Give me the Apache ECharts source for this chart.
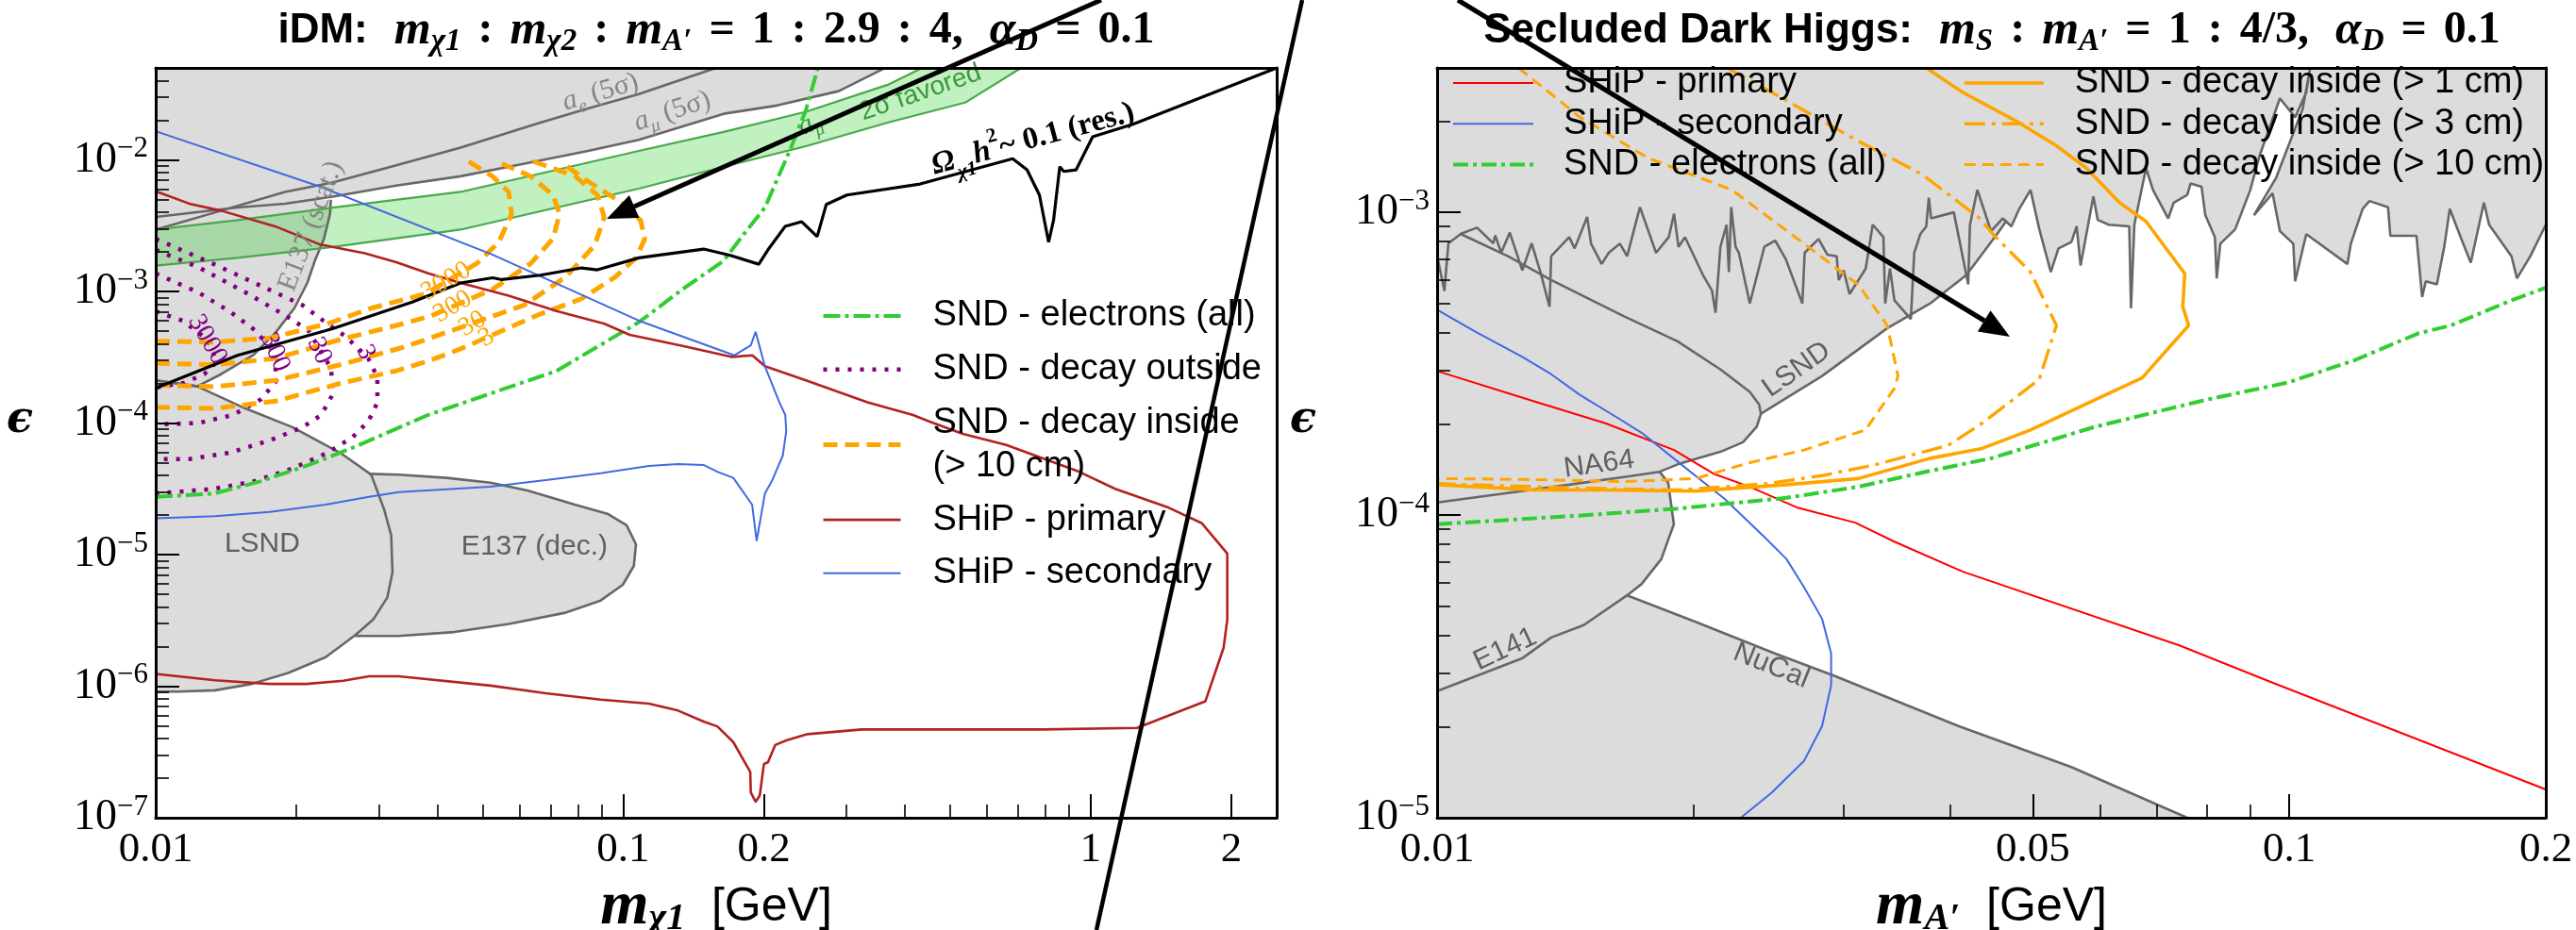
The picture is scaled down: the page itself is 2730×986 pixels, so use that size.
<!DOCTYPE html>
<html>
<head>
<meta charset="utf-8">
<title>SND@LHC sensitivity: inelastic dark matter and secluded dark Higgs</title>
<script src="https://cdn.jsdelivr.net/npm/echarts@6.0.0/dist/echarts.min.js"></script>
<style>
html, body { margin: 0; padding: 0; background: #ffffff; }
#chart { width: 2730px; height: 986px; }
</style>
</head>
<body>
<div id="chart"></div>
<script>
const SERIF = "'Liberation Serif', 'DejaVu Serif', serif";
const SANS = "'Liberation Sans', 'DejaVu Sans', sans-serif";

// ---------------- ticks ----------------
const idmXTickLabels = [0.01, 0.1, 0.2, 1, 2];
const idmXMinorTicks = [0.02, 0.03, 0.04, 0.05, 0.06, 0.07, 0.08, 0.09, 0.3, 0.4, 0.5, 0.6, 0.7, 0.8, 0.9];
const idmYTickLabels = [1e-7, 1e-6, 1e-5, 1e-4, 1e-3, 1e-2];
const higgsXTickLabels = [0.01, 0.05, 0.1, 0.2];
const higgsXMinorTicks = [0.02, 0.03, 0.04, 0.06, 0.07, 0.08, 0.09];
const higgsYTickLabels = [1e-5, 1e-4, 1e-3];

function decadeMinors(fromExp, toExp, top) {
  const out = [];
  for (let e = fromExp; e <= toExp; e++) {
    for (let k = 2; k <= 9; k++) {
      const v = +(k * Math.pow(10, e)).toPrecision(3);
      if (v < top) out.push(v);
    }
  }
  return out;
}
const idmYMinorTicks = decadeMinors(-7, -2, 0.05);
const higgsYMinorTicks = decadeMinors(-5, -3, 0.003);

// ---------------- iDM panel: [m_chi1 (GeV), epsilon] ----------------
const idmShipPrimary = [[0.01,5.78e-3],[0.0118,4.65e-3],[0.0138,4.11e-3],[0.018,3.13e-3],[0.0225,2.27e-3],[0.028,1.95e-3],[0.0327,1.67e-3],[0.0384,1.37e-3],[0.0449,1.16e-3],[0.0569,9.3e-4],[0.072,7.1e-4],[0.0912,5.68e-4],[0.1033,4.68e-4],[0.134,3.85e-4],[0.171,3.18e-4],[0.189,3.27e-4],[0.201,2.70e-4],[0.246,2.11e-4],[0.333,1.44e-4],[0.417,1.15e-4],[0.451,1.03e-4],[0.533,8.28e-5],[0.66,6.82e-5],[0.944,4.27e-5],[1.128,3.16e-5],[1.47,2.27e-5],[1.73,1.73e-5],[1.96,1.02e-5],[1.96,3.21e-6],[1.925,1.96e-6],[1.76,7.69e-7],[1.256,4.82e-7],[0.789,4.69e-7],[0.324,4.69e-7],[0.248,4.32e-7],[0.2233,3.87e-7],[0.2114,3.57e-7],[0.204,2.64e-7],[0.200,2.56e-7],[0.196,1.48e-7],[0.192,1.32e-7],[0.1875,1.56e-7],[0.187,2.23e-7],[0.172,3.76e-7],[0.159,4.95e-7],[0.1486,5.38e-7],[0.131,6.53e-7],[0.1135,7.36e-7],[0.0895,7.91e-7],[0.0683,8.83e-7],[0.052,1.01e-6],[0.0331,1.19e-6],[0.0286,1.19e-6],[0.0252,1.10e-6],[0.021,1.04e-6],[0.0175,1.04e-6],[0.0134,1.11e-6],[0.01,1.24e-6]];
const idmShipSecondary = [[0.01,1.65e-2],[0.0225,6.25e-3],[0.0526,1.9e-3],[0.108,6.0e-4],[0.173,3.27e-4],[0.1875,3.9e-4],[0.192,4.94e-4],[0.201,2.70e-4],[0.2155,1.46e-4],[0.2222,1.15e-4],[0.2233,8.7e-5],[0.2195,5.66e-5],[0.208,3.62e-5],[0.201,2.91e-5],[0.193,1.27e-5],[0.1887,2.40e-5],[0.172,3.83e-5],[0.159,4.27e-5],[0.1485,4.8e-5],[0.131,4.88e-5],[0.1135,4.72e-5],[0.0895,4.16e-5],[0.0683,3.68e-5],[0.052,3.28e-5],[0.0331,2.99e-5],[0.0286,2.75e-5],[0.0231,2.40e-5],[0.01754,2.11e-5],[0.0134,1.96e-5],[0.01,1.89e-5]];
const idmElectrons = [[0.01,2.75e-5],[0.01333,2.91e-5],[0.01682,3.62e-5],[0.0212,4.78e-5],[0.0268,6.64e-5],[0.0382,1.15e-4],[0.072,2.49e-4],[0.108,5.83e-4],[0.134,1.04e-3],[0.164,1.71e-3],[0.1815,2.75e-3],[0.201,4.34e-3],[0.227,1.17e-2],[0.246,2.39e-2],[0.261,0.05]];
const idmRelic = [[0.01,1.84e-4],[0.01496,3.27e-4],[0.0239,5.21e-4],[0.0355,8.33e-4],[0.0449,1.16e-3],[0.0526,1.27e-3],[0.055,1.23e-3],[0.0665,1.33e-3],[0.0815,1.51e-3],[0.0881,1.46e-3],[0.108,1.80e-3],[0.1486,2.10e-3],[0.1695,1.88e-3],[0.195,1.61e-3],[0.205,2.12e-3],[0.222,3.12e-3],[0.241,3.39e-3],[0.26,2.61e-3],[0.272,4.59e-3],[0.301,5.41e-3],[0.432,6.56e-3],[0.681,1.02e-2],[0.731,8.4e-3],[0.777,5.41e-3],[0.813,2.37e-3],[0.833,3.48e-3],[0.859,8.87e-3],[0.876,8.17e-3],[0.931,8.4e-3],[1.01,1.50e-2],[1.235,1.87e-2],[2.5,0.05]];
const idmBandUpper = [[0.01,2.95e-3],[0.01496,3.48e-3],[0.0239,4.34e-3],[0.0449,5.71e-3],[0.108,1.17e-2],[0.164,1.63e-2],[0.246,2.32e-2],[0.368,3.72e-2],[0.436,0.05]];
const idmBandLower = [[0.01,1.57e-3],[0.01496,1.80e-3],[0.0239,2.18e-3],[0.0449,2.95e-3],[0.108,6.04e-3],[0.164,8.87e-3],[0.246,1.27e-2],[0.368,1.92e-2],[0.541,2.74e-2],[0.71,0.05]];
const idmAeBound = [[0.01,2.95e-3],[0.0138,4.11e-3],[0.0189,5.71e-3],[0.0239,6.74e-3],[0.0327,9.1e-3],[0.0449,1.24e-2],[0.0665,1.92e-2],[0.0841,2.46e-2],[0.108,3.16e-2],[0.158,0.05]];
const idmAmuBound = [[0.01,3.68e-3],[0.01496,4.34e-3],[0.0189,4.64e-3],[0.0239,5.26e-3],[0.0327,6.37e-3],[0.0449,7.51e-3],[0.0615,9.37e-3],[0.0841,1.17e-2],[0.108,1.42e-2],[0.164,2.24e-2],[0.2133,2.59e-2],[0.289,3.33e-2],[0.353,4.75e-2],[0.363,0.05]];
const idmE137Scat = [[0.01,2.11e-4],[0.01227,1.90e-4],[0.0138,2.35e-4],[0.01615,3.27e-4],[0.018,4.81e-4],[0.0198,7.46e-4],[0.0211,1.16e-3],[0.0219,1.71e-3],[0.0229,2.51e-3],[0.0236,3.89e-3],[0.0237,4.98e-3]];
const idmLsnd = [[0.01,2.11e-4],[0.01227,1.90e-4],[0.01556,1.29e-4],[0.0196,9.3e-5],[0.0248,5.94e-5],[0.0289,4.06e-5],[0.0308,2.21e-5],[0.0319,1.4e-5],[0.0321,7.35e-6],[0.0313,4.73e-6],[0.0292,3.21e-6],[0.0267,2.44e-6],[0.0231,1.66e-6],[0.0192,1.26e-6],[0.01604,1.04e-6],[0.0134,9.3e-7],[0.01117,9.1e-7],[0.01,9.1e-7]];
const idmE137Dec = [[0.0286,4.11e-5],[0.0331,4.05e-5],[0.0419,3.83e-5],[0.052,3.52e-5],[0.0624,3.07e-5],[0.0788,2.40e-5],[0.0929,2.03e-5],[0.1017,1.67e-5],[0.1065,1.20e-5],[0.1054,8.2e-6],[0.0998,5.9e-6],[0.0895,4.48e-6],[0.0748,3.6e-6],[0.057,2.97e-6],[0.0435,2.58e-6],[0.0331,2.41e-6],[0.0267,2.41e-6]];
// SND decay inside (> 10 cm), event-count contours 3000 / 300 / 30 / 3
const idmInside3000 = [[0.01,4.19e-4],[0.01333,4.12e-4],[0.0176,4.44e-4],[0.0233,5.68e-4],[0.0289,7.46e-4],[0.0377,9.57e-4],[0.0486,1.63e-3],[0.0542,2.37e-3],[0.0577,3.88e-3],[0.0569,5.71e-3],[0.0525,7.51e-3],[0.0463,9.9e-3]];
const idmInside300 = [[0.01,2.85e-4],[0.01333,2.77e-4],[0.0181,3.10e-4],[0.0248,4.31e-4],[0.0338,5.68e-4],[0.0388,6.52e-4],[0.0526,1.04e-3],[0.0634,1.63e-3],[0.0708,2.52e-3],[0.0731,3.89e-3],[0.0708,5.41e-3],[0.0634,7.51e-3],[0.055,9.37e-3]];
const idmInside30 = [[0.01,1.94e-4],[0.01333,1.89e-4],[0.0181,2.11e-4],[0.0248,2.77e-4],[0.0338,3.76e-4],[0.0388,4.44e-4],[0.0615,7.89e-4],[0.0753,1.29e-3],[0.0869,2.24e-3],[0.0911,3.68e-3],[0.0881,5.41e-3],[0.079,7.51e-3],[0.0634,9.9e-3]];
const idmInside3 = [[0.01,1.32e-4],[0.01333,1.29e-4],[0.0181,1.47e-4],[0.0248,2.0e-4],[0.0327,2.49e-4],[0.0388,3.01e-4],[0.0449,3.66e-4],[0.0662,6.7e-4],[0.0815,8.8e-4],[0.0962,1.29e-3],[0.1066,1.8e-3],[0.1112,2.5e-3],[0.109,3.47e-3],[0.0982,4.84e-3],[0.0849,6.73e-3],[0.0735,9.6e-3]];
// SND decay outside, event-count contours 3000 / 300 / 30 / 3
const idmOutside3000 = [[0.01,7.06e-4],[0.01141,6.0e-4],[0.01291,4.31e-4],[0.01352,2.93e-4],[0.0127,2.35e-4],[0.0115,2.02e-4],[0.01,1.86e-4]];
const idmOutside300 = [[0.01,1.37e-3],[0.01233,9.84e-4],[0.01439,7.06e-4],[0.0163,5.08e-4],[0.0179,3.46e-4],[0.01815,2.11e-4],[0.01682,1.52e-4],[0.01463,1.15e-4],[0.01233,1.0e-4],[0.01,9.75e-5]];
const idmOutside30 = [[0.01,2.07e-3],[0.01233,1.53e-3],[0.01556,9.84e-4],[0.01875,6.70e-4],[0.0212,5.08e-4],[0.0237,2.62e-4],[0.024,1.69e-4],[0.0226,1.15e-4],[0.02057,9.25e-5],[0.0176,7.42e-5],[0.01439,5.94e-5],[0.01177,5.32e-5],[0.01,5.32e-5]];
const idmOutside3 = [[0.01,2.51e-3],[0.01333,1.61e-3],[0.01682,1.10e-3],[0.02057,7.91e-4],[0.0233,5.68e-4],[0.0255,4.55e-4],[0.0285,3.10e-4],[0.0298,2.23e-4],[0.0298,1.43e-4],[0.0285,1.03e-4],[0.0264,7.83e-5],[0.0233,5.94e-5],[0.0196,4.51e-5],[0.0163,3.62e-5],[0.01333,3.16e-5],[0.01,2.91e-5]];

// ---------------- secluded dark Higgs panel: [m_A' (GeV), epsilon] ----------------
const higgsShipPrimary = [[0.01,2.99e-4],[0.01297,2.38e-4],[0.01576,2.01e-4],[0.01897,1.64e-4],[0.0211,1.37e-4],[0.02328,1.24e-4],[0.02642,1.06e-4],[0.03095,9.44e-5],[0.0344,8.17e-5],[0.0414,6.5e-5],[0.0743,3.71e-5],[0.0951,2.81e-5],[0.2,1.24e-5]];
const higgsShipSecondary = [[0.01,4.77e-4],[0.0111,4.03e-4],[0.01259,3.33e-4],[0.01361,2.92e-4],[0.01472,2.49e-4],[0.01622,2.11e-4],[0.01738,1.87e-4],[0.01934,1.47e-4],[0.02175,1.13e-4],[0.02421,8.47e-5],[0.0257,7.16e-5],[0.02695,5.78e-5],[0.0283,4.54e-5],[0.029,3.49e-5],[0.029,2.74e-5],[0.0283,2.01e-5],[0.02695,1.54e-5],[0.02469,1.21e-5],[0.02272,1.0e-5]];
const higgsElectrons = [[0.01,9.33e-5],[0.01429,9.91e-5],[0.01915,1.05e-4],[0.0257,1.14e-4],[0.0312,1.24e-4],[0.0379,1.40e-4],[0.04467,1.54e-4],[0.0589,1.95e-4],[0.0797,2.4e-4],[0.0996,2.74e-4],[0.1194,3.25e-4],[0.1416,3.98e-4],[0.1548,4.23e-4],[0.1823,5.12e-4],[0.2,5.64e-4]];
const higgsInside1cm = [[0.0375,3e-3],[0.0414,2.49e-3],[0.0477,2.01e-3],[0.0533,1.66e-3],[0.0578,1.40e-3],[0.0632,1.077e-3],[0.0679,9.33e-4],[0.0754,6.28e-4],[0.075,4.88e-4],[0.0762,4.23e-4],[0.0672,2.84e-4],[0.0608,2.49e-4],[0.0497,1.91e-4],[0.0436,1.66e-4],[0.0379,1.54e-4],[0.0312,1.32e-4],[0.0257,1.26e-4],[0.0201,1.20e-4],[0.01574,1.21e-4],[0.01297,1.21e-4],[0.01,1.26e-4]];
const higgsInside3cm = [[0.02188,3e-3],[0.02472,2.49e-3],[0.03095,1.74e-3],[0.03706,1.336e-3],[0.04335,9.55e-4],[0.0449,8.47e-4],[0.0497,6.35e-4],[0.0533,4.23e-4],[0.0509,2.81e-4],[0.0477,2.44e-4],[0.0436,2.01e-4],[0.0398,1.70e-4],[0.0328,1.47e-4],[0.0283,1.35e-4],[0.02445,1.27e-4],[0.01915,1.21e-4],[0.01429,1.23e-4],[0.01,1.27e-4]];
const higgsInside10cm = [[0.01246,3e-3],[0.01472,2.06e-3],[0.0177,1.51e-3],[0.02218,1.186e-3],[0.02695,7.88e-4],[0.03118,5.78e-4],[0.03375,4.23e-4],[0.03474,2.88e-4],[0.0344,2.62e-4],[0.03182,1.91e-4],[0.02695,1.64e-4],[0.02328,1.49e-4],[0.0201,1.32e-4],[0.01655,1.29e-4],[0.01297,1.31e-4],[0.01,1.32e-4]];
const higgsUpperBound = [[0.01,7.2e-4],[0.0102,5.5e-4],[0.01031,7.9e-4],[0.01067,8.5e-4],[0.01114,8.9e-4],[0.01164,7.9e-4],[0.0117,8.4e-4],[0.01189,7.35e-4],[0.01217,8.57e-4],[0.01259,6.43e-4],[0.01291,7.9e-4],[0.01322,6.35e-4],[0.01355,4.88e-4],[0.01361,7.16e-4],[0.01429,8.28e-4],[0.0145,7.6e-4],[0.015,9.66e-4],[0.01516,7.88e-4],[0.0156,6.75e-4],[0.0159,7.35e-4],[0.01639,7.88e-4],[0.01671,7.16e-4],[0.0173,1.04e-3],[0.01807,7.35e-4],[0.0187,8.28e-4],[0.01897,9.9e-4],[0.0192,7.69e-4],[0.01954,8.28e-4],[0.02051,6.21e-4],[0.02102,5.51e-4],[0.02122,4.66e-4],[0.0215,7.69e-4],[0.02186,9.1e-4],[0.022,6.35e-4],[0.02214,1.04e-3],[0.0224,7.69e-4],[0.0226,7.35e-4],[0.02328,5.0e-4],[0.02421,7.69e-4],[0.02493,8.07e-4],[0.02566,7.0e-4],[0.02683,5.0e-4],[0.027,7.35e-4],[0.02803,8.17e-4],[0.0287,7.25e-4],[0.02944,7.16e-4],[0.0296,5.98e-4],[0.03,6.43e-4],[0.03048,5.37e-4],[0.03184,6.52e-4],[0.03245,9.1e-4],[0.0334,8.28e-4],[0.03356,5.0e-4],[0.034,6.52e-4],[0.03441,5.12e-4],[0.03597,4.44e-4],[0.0363,7.35e-4],[0.0369,8.47e-4],[0.0375,8.99e-4],[0.03776,1.117e-3],[0.038,9.55e-4],[0.0404,1.0e-3],[0.042,5.78e-4],[0.0422,9.1e-4],[0.04305,1.186e-3],[0.04467,8.67e-4],[0.0461,9.55e-4],[0.0472,8.99e-4],[0.0482,1.026e-3],[0.0497,1.186e-3],[0.0509,8.79e-4],[0.0525,6.35e-4],[0.0536,7.6e-4],[0.0555,7.98e-4],[0.0563,8.99e-4],[0.0569,6.67e-4],[0.0589,1.129e-3],[0.0596,9.44e-4],[0.0614,9.1e-4],[0.0649,8.99e-4],[0.0652,4.82e-4],[0.0658,9.1e-4],[0.0679,1.40e-3],[0.0692,1.186e-3],[0.0721,9.55e-4],[0.0732,1.077e-3],[0.0759,1.142e-3],[0.0766,1.245e-3],[0.0789,1.214e-3],[0.0797,9.79e-4],[0.0818,8.28e-4],[0.0822,6.05e-4],[0.083,7.88e-4],[0.0864,8.79e-4],[0.09,1.186e-3],[0.0923,1.54e-3],[0.0975,2.38e-3],[0.1016,2.06e-3],[0.1047,2.49e-3],[0.1058,3.0e-3],[0.1037,2.2e-3],[0.0965,1.3e-3],[0.0909,9.79e-4],[0.0956,1.156e-3],[0.0975,8.67e-4],[0.1011,7.88e-4],[0.1016,5.92e-4],[0.1047,8.47e-4],[0.117,6.75e-4],[0.1181,7.88e-4],[0.1219,1.026e-3],[0.1242,1.09e-3],[0.1306,1.04e-3],[0.1314,8.37e-4],[0.141,8.37e-4],[0.1432,5.25e-4],[0.1446,5.92e-4],[0.149,5.78e-4],[0.152,7.69e-4],[0.1543,1.026e-3],[0.1584,8.47e-4],[0.1633,6.82e-4],[0.1692,1.077e-3],[0.1716,9.1e-4],[0.1823,7.16e-4],[0.185,6.05e-4],[0.1918,7.16e-4],[0.2,9.1e-4]];
const higgsLsndRight = [[0.0466,9.4e-4],[0.0454,8.47e-4],[0.0418,6.21e-4],[0.0379,5.0e-4],[0.0337,4.13e-4],[0.0283,2.88e-4],[0.02399,2.16e-4]];
const higgsLsndUpper = [[0.02399,2.16e-4],[0.02387,2.32e-4],[0.02328,2.55e-4],[0.02153,3.02e-4],[0.01915,3.75e-4],[0.01655,4.54e-4],[0.01361,5.98e-4],[0.01211,7.16e-4],[0.01067,8.47e-4]];
const higgsNa64 = [[0.02399,2.16e-4],[0.02372,1.96e-4],[0.02285,1.74e-4],[0.02153,1.62e-4],[0.01915,1.47e-4],[0.01824,1.39e-4],[0.01671,1.34e-4],[0.01429,1.26e-4],[0.01175,1.17e-4],[0.01,1.10e-4]];
const higgsE141 = [[0.01824,1.39e-4],[0.01867,1.28e-4],[0.01896,9.33e-5],[0.01833,7.16e-5],[0.01738,5.92e-5],[0.01671,5.43e-5],[0.01486,4.33e-5],[0.01361,3.94e-5],[0.01258,3.36e-5],[0.01,2.62e-5]];
const higgsNuCal = [[0.01671,5.43e-5],[0.0201,4.44e-5],[0.0249,3.49e-5],[0.0292,2.95e-5],[0.0409,2.01e-5],[0.0555,1.47e-5],[0.0759,1.0e-5]];

// ---------------- region / contour labels: [text, mass, epsilon] ----------------
const idmNotes = [
  ['{it|a}{sub|e} (5σ)', 0.0894, 0.0326],
  ['{it|a}{sub|μ} (5σ)', 0.1274, 0.0234],
  ['E137 (scat.)', 0.0215, 3.13e-3],
  ['LSND', 0.0169, 1.2e-5],
  ['E137 (dec.)', 0.0646, 1.14e-5],
  ['{bit|Ω}{bsub|χ1}{bit|h}{bsup|2}{bold|~ 0.1 (res.)}', 0.753, 1.43e-2],
  ['{it|a}{sub|μ}', 0.251, 1.87e-2],
  ['2σ favored', 0.4325, 0.0324]
];
const idmNoteLook = [[16, 'serifGray'], [18, 'serifGray'], [69, 'serifGray'], [0, 'sansGray'], [0, 'sansGray'], [15, 'relic'], [22, 'greenSerif'], [19, 'greenSans']];
const idmInsideTags = [['3000', 0.0418, 1.19e-3], ['300', 0.0432, 7.67e-4], ['30', 0.0476, 5.68e-4], ['3', 0.0510, 4.46e-4]];
const idmOutsideTags = [['3000', 0.0129, 4.31e-4], ['300', 0.018, 3.46e-4], ['30', 0.0224, 3.55e-4], ['3', 0.0281, 3.46e-4]];
const higgsNotes = [['LSND', 0.02642, 3.02e-4], ['NA64', 0.01549, 1.47e-4], ['E141', 0.01202, 3.6e-5], ['NuCal', 0.02466, 3.17e-5]];
const higgsNoteLook = [[35, 'sansGray'], [8, 'sansGray'], [25, 'sansGray'], [-22, 'sansGray']];

// ---------------- styles ----------------
const GRAY_FILL = '#dcdcdc';
const GRAY_EDGE = '#676767';
const NOTE_STYLE = {
  serifGray: { fill: '#858585', fontFamily: SERIF, fontSize: 30 },
  sansGray: { fill: '#5f5f5f', fontFamily: SANS, fontSize: 30 },
  relic: { fill: '#000', fontFamily: SERIF, fontSize: 33, fontWeight: 'bold' },
  greenSerif: { fill: '#3a9a3a', fontFamily: SERIF, fontSize: 30, fontStyle: 'italic' },
  greenSans: { fill: '#3a9a3a', fontFamily: SANS, fontSize: 28 },
  orange: { fill: '#ffa500', fontFamily: SERIF, fontSize: 28 },
  purple: { fill: '#800080', fontFamily: SERIF, fontSize: 28 }
};
function noteRich(base) {
  const f = base.fontSize;
  return {
    it: { fill: base.fill, fontFamily: SERIF, fontStyle: 'italic', fontSize: f, lineHeight: f * 1.3 },
    sub: { fill: base.fill, fontFamily: SERIF, fontStyle: 'italic', fontSize: f * 0.65, lineHeight: f * 0.6, verticalAlign: 'bottom' },
    bit: { fill: base.fill, fontFamily: SERIF, fontStyle: 'italic', fontWeight: 'bold', fontSize: f, lineHeight: f * 1.5 },
    bsub: { fill: base.fill, fontFamily: SERIF, fontStyle: 'italic', fontWeight: 'bold', fontSize: f * 0.65, lineHeight: f * 0.6, verticalAlign: 'bottom' },
    bsup: { fill: base.fill, fontFamily: SERIF, fontWeight: 'bold', fontSize: f * 0.65, lineHeight: f * 0.6, verticalAlign: 'top' },
    bold: { fill: base.fill, fontFamily: SERIF, fontWeight: 'bold', fontSize: f, lineHeight: f * 1.5 }
  };
}

// panel -> index of its data axes
const PANEL = { idm: 0, higgs: 3 };

function region(panel, pts, fill, z) {
  return {
    type: 'custom', coordinateSystem: 'cartesian2d',
    xAxisIndex: PANEL[panel], yAxisIndex: PANEL[panel],
    clip: true, silent: true, z: z, data: pts,
    renderItem: function (params, api) {
      if (params.dataIndex !== 0) return null;
      return { type: 'polygon', shape: { points: pts.map(p => api.coord(p)) }, style: { fill: fill } };
    }
  };
}

function curve(name, panel, pts, color, width, dash, z) {
  return {
    type: 'line', name: name, xAxisIndex: PANEL[panel], yAxisIndex: PANEL[panel],
    data: pts, symbol: 'none', showSymbol: false, smooth: false, clip: true, silent: true,
    z: z, lineStyle: { color: color, width: width, type: dash || 'solid', cap: 'butt' },
    itemStyle: { color: color }, emphasis: { disabled: true }
  };
}

function labels(panel, items, looks, z) {
  return {
    type: 'custom', coordinateSystem: 'cartesian2d',
    xAxisIndex: PANEL[panel], yAxisIndex: PANEL[panel],
    silent: true, z: z, data: items.map(it => [it[1], it[2]]),
    renderItem: function (params, api) {
      const it = items[params.dataIndex];
      const look = looks(params.dataIndex);
      const base = NOTE_STYLE[look[1]];
      const p = api.coord([it[1], it[2]]);
      return {
        type: 'text', x: p[0], y: p[1], rotation: look[0] * Math.PI / 180,
        style: Object.assign({}, base, {
          text: it[0], align: 'center', verticalAlign: 'middle',
          textAlign: 'center', textVerticalAlign: 'middle', rich: noteRich(base)
        })
      };
    }
  };
}

// ---------------- axes ----------------
function fmtPlain(v) { return String(+(+v).toPrecision(4)); }
function fmtPow(v) { return '{b|10}{s|−' + Math.round(-Math.log10(v)) + '}'; }

const AXIS_BLACK = { color: '#000', width: 3 };
const X_NAME_RICH = {
  m: { fontFamily: SERIF, fontStyle: 'italic', fontWeight: 'bold', fontSize: 66, lineHeight: 66 },
  s: { fontFamily: SERIF, fontStyle: 'italic', fontWeight: 'bold', fontSize: 40, lineHeight: 36, verticalAlign: 'bottom' },
  n: { fontFamily: SANS, fontSize: 50, lineHeight: 66 }
};
const Y_LABEL_RICH = {
  b: { fontFamily: SERIF, fontSize: 46, lineHeight: 54, color: '#000' },
  s: { fontFamily: SERIF, fontSize: 31, lineHeight: 30, verticalAlign: 'top', color: '#000' }
};

function xAxesFor(g, min, max, labelVals, minorVals, name) {
  return [
    {
      gridIndex: g, type: 'log', logBase: 10, min: min, max: max, position: 'bottom', z: 10,
      axisLine: { show: true, onZero: false, lineStyle: AXIS_BLACK },
      axisTick: { show: true, inside: true, length: 25, customValues: labelVals, lineStyle: { color: '#000', width: 2 } },
      axisLabel: { show: true, customValues: labelVals, margin: 12, color: '#000', fontFamily: SERIF, fontSize: 45, formatter: fmtPlain },
      splitLine: { show: false },
      name: name, nameLocation: 'middle', nameGap: 50,
      nameTextStyle: { color: '#000', rich: X_NAME_RICH }
    },
    {
      gridIndex: g, type: 'log', logBase: 10, min: min, max: max, position: 'bottom', z: 10,
      axisLine: { show: false },
      axisTick: { show: true, inside: true, length: 14, customValues: minorVals, lineStyle: { color: '#000', width: 1.6 } },
      axisLabel: { show: false }, splitLine: { show: false }
    },
    {
      gridIndex: g, type: 'log', logBase: 10, min: min, max: max, position: 'top', z: 10,
      axisLine: { show: true, onZero: false, lineStyle: AXIS_BLACK },
      axisTick: { show: false }, axisLabel: { show: false }, splitLine: { show: false }
    }
  ];
}

function yAxesFor(g, min, max, labelVals, minorVals, nameGap) {
  return [
    {
      gridIndex: g, type: 'log', logBase: 10, min: min, max: max, position: 'left', z: 10,
      axisLine: { show: true, onZero: false, lineStyle: AXIS_BLACK },
      axisTick: { show: true, inside: true, length: 25, customValues: labelVals, lineStyle: { color: '#000', width: 2 } },
      axisLabel: { show: true, customValues: labelVals, margin: 8, formatter: fmtPow, rich: Y_LABEL_RICH },
      splitLine: { show: false },
      name: '{e|ϵ}', nameLocation: 'middle', nameRotate: 0, nameGap: nameGap,
      nameTextStyle: { padding: [0, 0, 46, 0], rich: { e: { fontFamily: "'DejaVu Serif', serif", fontStyle: 'italic', fontWeight: 'bold', fontSize: 46, color: '#000' } } }
    },
    {
      gridIndex: g, type: 'log', logBase: 10, min: min, max: max, position: 'left', z: 10,
      axisLine: { show: false },
      axisTick: { show: true, inside: true, length: 14, customValues: minorVals, lineStyle: { color: '#000', width: 1.6 } },
      axisLabel: { show: false }, splitLine: { show: false }
    },
    {
      gridIndex: g, type: 'log', logBase: 10, min: min, max: max, position: 'right', z: 10,
      axisLine: { show: true, onZero: false, lineStyle: AXIS_BLACK },
      axisTick: { show: false }, axisLabel: { show: false }, splitLine: { show: false }
    }
  ];
}

// ---------------- series ----------------
const ORANGE = '#ffa500';
const PURPLE = '#800080';
const LIME = '#32cd32';
const idmBandFill = idmBandUpper.concat(idmBandLower.slice().reverse());
const higgsLeftFill = [[0.01, 3e-3], [0.0466, 3e-3]]
  .concat(higgsLsndRight, higgsNa64.slice(1, 6), higgsE141.slice(1, 6), higgsNuCal.slice(1), [[0.01, 1e-5]]);

const series = [
  // iDM exclusion regions
  region('idm', idmAeBound.concat([[0.01, 0.05]]), GRAY_FILL, 1),
  region('idm', idmAmuBound.concat([[0.01, 0.05]]), GRAY_FILL, 1),
  region('idm', idmE137Scat.concat([[0.01, 4.98e-3]]), GRAY_FILL, 1),
  region('idm', idmE137Dec, GRAY_FILL, 1),
  region('idm', idmLsnd, GRAY_FILL, 1),
  curve('', 'idm', idmAeBound, GRAY_EDGE, 2.6, 'solid', 2),
  curve('', 'idm', idmAmuBound, GRAY_EDGE, 2.6, 'solid', 2),
  curve('', 'idm', idmE137Scat, GRAY_EDGE, 2.6, 'solid', 2),
  curve('', 'idm', idmE137Dec, GRAY_EDGE, 2.6, 'solid', 2),
  curve('', 'idm', idmLsnd, GRAY_EDGE, 2.6, 'solid', 2),
  region('idm', idmBandFill, 'rgba(50,205,50,0.3)', 2),
  curve('', 'idm', idmBandUpper, '#4aa84a', 2.2, 'solid', 2),
  curve('', 'idm', idmBandLower, '#4aa84a', 2.2, 'solid', 2),
  // iDM sensitivities
  curve('SND - decay outside', 'idm', idmOutside3000, PURPLE, 4.5, [4, 9], 3),
  curve('SND - decay outside', 'idm', idmOutside300, PURPLE, 4.5, [4, 9], 3),
  curve('SND - decay outside', 'idm', idmOutside30, PURPLE, 4.5, [4, 9], 3),
  curve('SND - decay outside', 'idm', idmOutside3, PURPLE, 4.5, [4, 9], 3),
  curve('SND - decay inside (> 10 cm)', 'idm', idmInside3000, ORANGE, 5, [15, 8], 3),
  curve('SND - decay inside (> 10 cm)', 'idm', idmInside300, ORANGE, 5, [15, 8], 3),
  curve('SND - decay inside (> 10 cm)', 'idm', idmInside30, ORANGE, 5, [15, 8], 3),
  curve('SND - decay inside (> 10 cm)', 'idm', idmInside3, ORANGE, 5, [15, 8], 3),
  curve('SND - electrons (all)', 'idm', idmElectrons, LIME, 4, [18, 5, 4, 5], 3),
  curve('SHiP - primary', 'idm', idmShipPrimary, '#b22222', 2.6, 'solid', 3),
  curve('SHiP - secondary', 'idm', idmShipSecondary, '#4169e1', 2, 'solid', 3),
  curve('', 'idm', idmRelic, '#000', 3.2, 'solid', 4),
  labels('idm', idmNotes, i => idmNoteLook[i], 5),
  labels('idm', idmInsideTags, () => [30, 'orange'], 5),
  labels('idm', idmOutsideTags, i => [i === 0 ? -60 : -66, 'purple'], 5),

  // secluded dark Higgs exclusion regions
  region('higgs', higgsUpperBound.concat([[0.2, 3e-3], [0.01, 3e-3]]), GRAY_FILL, 1),
  region('higgs', higgsLeftFill, GRAY_FILL, 1),
  curve('', 'higgs', higgsUpperBound, GRAY_EDGE, 2.6, 'solid', 2),
  curve('', 'higgs', higgsLsndRight.concat(higgsLsndUpper.slice(1)), GRAY_EDGE, 2.6, 'solid', 2),
  curve('', 'higgs', higgsNa64, GRAY_EDGE, 2.6, 'solid', 2),
  curve('', 'higgs', higgsE141, GRAY_EDGE, 2.6, 'solid', 2),
  curve('', 'higgs', higgsNuCal, GRAY_EDGE, 2.6, 'solid', 2),
  // secluded dark Higgs sensitivities
  curve('SHiP - primary ', 'higgs', higgsShipPrimary, '#ff0000', 2, 'solid', 3),
  curve('SHiP - secondary ', 'higgs', higgsShipSecondary, '#4169e1', 2, 'solid', 3),
  curve('SND - electrons (all) ', 'higgs', higgsElectrons, LIME, 4, [16, 5, 4, 5], 3),
  curve('SND - decay inside (> 1 cm)', 'higgs', higgsInside1cm, ORANGE, 3.6, 'solid', 3),
  curve('SND - decay inside (> 3 cm)', 'higgs', higgsInside3cm, ORANGE, 3.4, [22, 7, 4, 7], 3),
  curve('SND - decay inside (> 10 cm) ', 'higgs', higgsInside10cm, ORANGE, 3, [12, 7], 3),
  labels('higgs', higgsNotes, i => higgsNoteLook[i], 5)
];

// ---------------- legends ----------------
const LEGEND_TEXT = { fontFamily: SANS, fontSize: 38, color: '#000' };
function legendBlock(left, top, names, itemWidth, gap, lineHeight, textShift, formatter) {
  return {
    orient: 'vertical', left: left, top: top, padding: 5,
    itemWidth: itemWidth, itemHeight: 4, itemGap: gap,
    selectedMode: false, data: names,
    lineStyle: { width: 'inherit' }, itemStyle: { opacity: 0 },
    textStyle: Object.assign({}, LEGEND_TEXT, { lineHeight: lineHeight, padding: [0, 0, 0, textShift] }),
    formatter: formatter || (n => n)
  };
}

const legends = [
  legendBlock(865, 307, ['SND - electrons (all)', 'SND - decay outside', 'SND - decay inside (> 10 cm)', 'SHiP - primary', 'SHiP - secondary'],
    82, 10.7, 46, 29, n => n === 'SND - decay inside (> 10 cm)' ? 'SND - decay inside\n(> 10 cm)' : n),
  legendBlock(1533, 64, ['SHiP - primary ', 'SHiP - secondary ', 'SND - electrons (all) '], 85, 5.3, 38, 27),
  legendBlock(2075, 64, ['SND - decay inside (> 1 cm)', 'SND - decay inside (> 3 cm)', 'SND - decay inside (> 10 cm) '], 84, 5.3, 38, 28)
];

// ---------------- titles and marker arrows ----------------
const TITLE_RICH = {
  h: { fontFamily: SANS, fontWeight: 'bold', fontSize: 44, lineHeight: 56, fill: '#000' },
  m: { fontFamily: SERIF, fontWeight: 'bold', fontStyle: 'italic', fontSize: 50, lineHeight: 56, fill: '#000' },
  o: { fontFamily: SERIF, fontWeight: 'bold', fontSize: 48, lineHeight: 56, fill: '#000' },
  r: { fontFamily: SERIF, fontWeight: 'bold', fontSize: 48, lineHeight: 56, fill: '#000', padding: [0, 18, 0, 18] },
  s: { fontFamily: SERIF, fontWeight: 'bold', fontStyle: 'italic', fontSize: 33, lineHeight: 26, verticalAlign: 'bottom', fill: '#000' },
  gap: { width: 28, lineHeight: 56 }
};
const idmTitle = '{h|iDM:}{gap| }{m|m}{s|χ1}{r|:}{m|m}{s|χ2}{r|:}{m|m}{s|A′}{r|=}{o|1}{r|:}{o|2.9}{r|:}{o|4,}{gap| }{m|α}{s|D}{r|=}{o|0.1}';
const higgsTitle = '{h|Secluded Dark Higgs:}{gap| }{m|m}{s|S}{r|:}{m|m}{s|A′}{r|=}{o|1}{r|:}{o|4/3,}{gap| }{m|α}{s|D}{r|=}{o|0.1}';

function titleText(x, y, text) {
  return {
    type: 'text', x: x, y: y, z: 50,
    style: { text: text, rich: TITLE_RICH, align: 'center', verticalAlign: 'middle', textAlign: 'center', textVerticalAlign: 'middle' }
  };
}

const graphic = [
  titleText(759, 33, idmTitle),
  titleText(2111, 33, higgsTitle),
  { type: 'line', z: 100, shape: { x1: 1167, y1: 0, x2: 672, y2: 219 }, style: { stroke: '#000', lineWidth: 5 } },
  { type: 'polygon', z: 100, shape: { points: [[643, 232], [677.5, 230.9], [666.9, 207.1]] }, style: { fill: '#000' } },
  { type: 'line', z: 100, shape: { x1: 1545, y1: 0, x2: 2103, y2: 340 }, style: { stroke: '#000', lineWidth: 5 } },
  { type: 'polygon', z: 100, shape: { points: [[2130, 357], [2095.9, 351.4], [2109.5, 329.2]] }, style: { fill: '#000' } },
  { type: 'line', z: 100, shape: { x1: 1380, y1: 0, x2: 1162, y2: 986 }, style: { stroke: '#000', lineWidth: 4.5 } }
];

const option = {
  animation: false,
  backgroundColor: '#ffffff',
  textStyle: { fontFamily: SANS },
  grid: [
    { left: 165, top: 72, width: 1188, height: 795, containLabel: false, outerBoundsMode: 'none' },
    { left: 1523, top: 72, width: 1175, height: 795, containLabel: false, outerBoundsMode: 'none' }
  ],
  xAxis: xAxesFor(0, 0.01, 2.5, idmXTickLabels, idmXMinorTicks, '{m|m}{s|χ1}{n|  [GeV]}')
    .concat(xAxesFor(1, 0.01, 0.2, higgsXTickLabels, higgsXMinorTicks, '{m|m}{s|A′}{n|  [GeV]}')),
  yAxis: yAxesFor(0, 1e-7, 0.05, idmYTickLabels, idmYMinorTicks, 130)
    .concat(yAxesFor(1, 1e-5, 3e-3, higgsYTickLabels, higgsYMinorTicks, 128)),
  legend: legends,
  series: series,
  graphic: graphic
};

const chart = echarts.init(document.getElementById('chart'), null, { renderer: 'canvas', width: 2730, height: 986 });
chart.setOption(option);
</script>
</body>
</html>
